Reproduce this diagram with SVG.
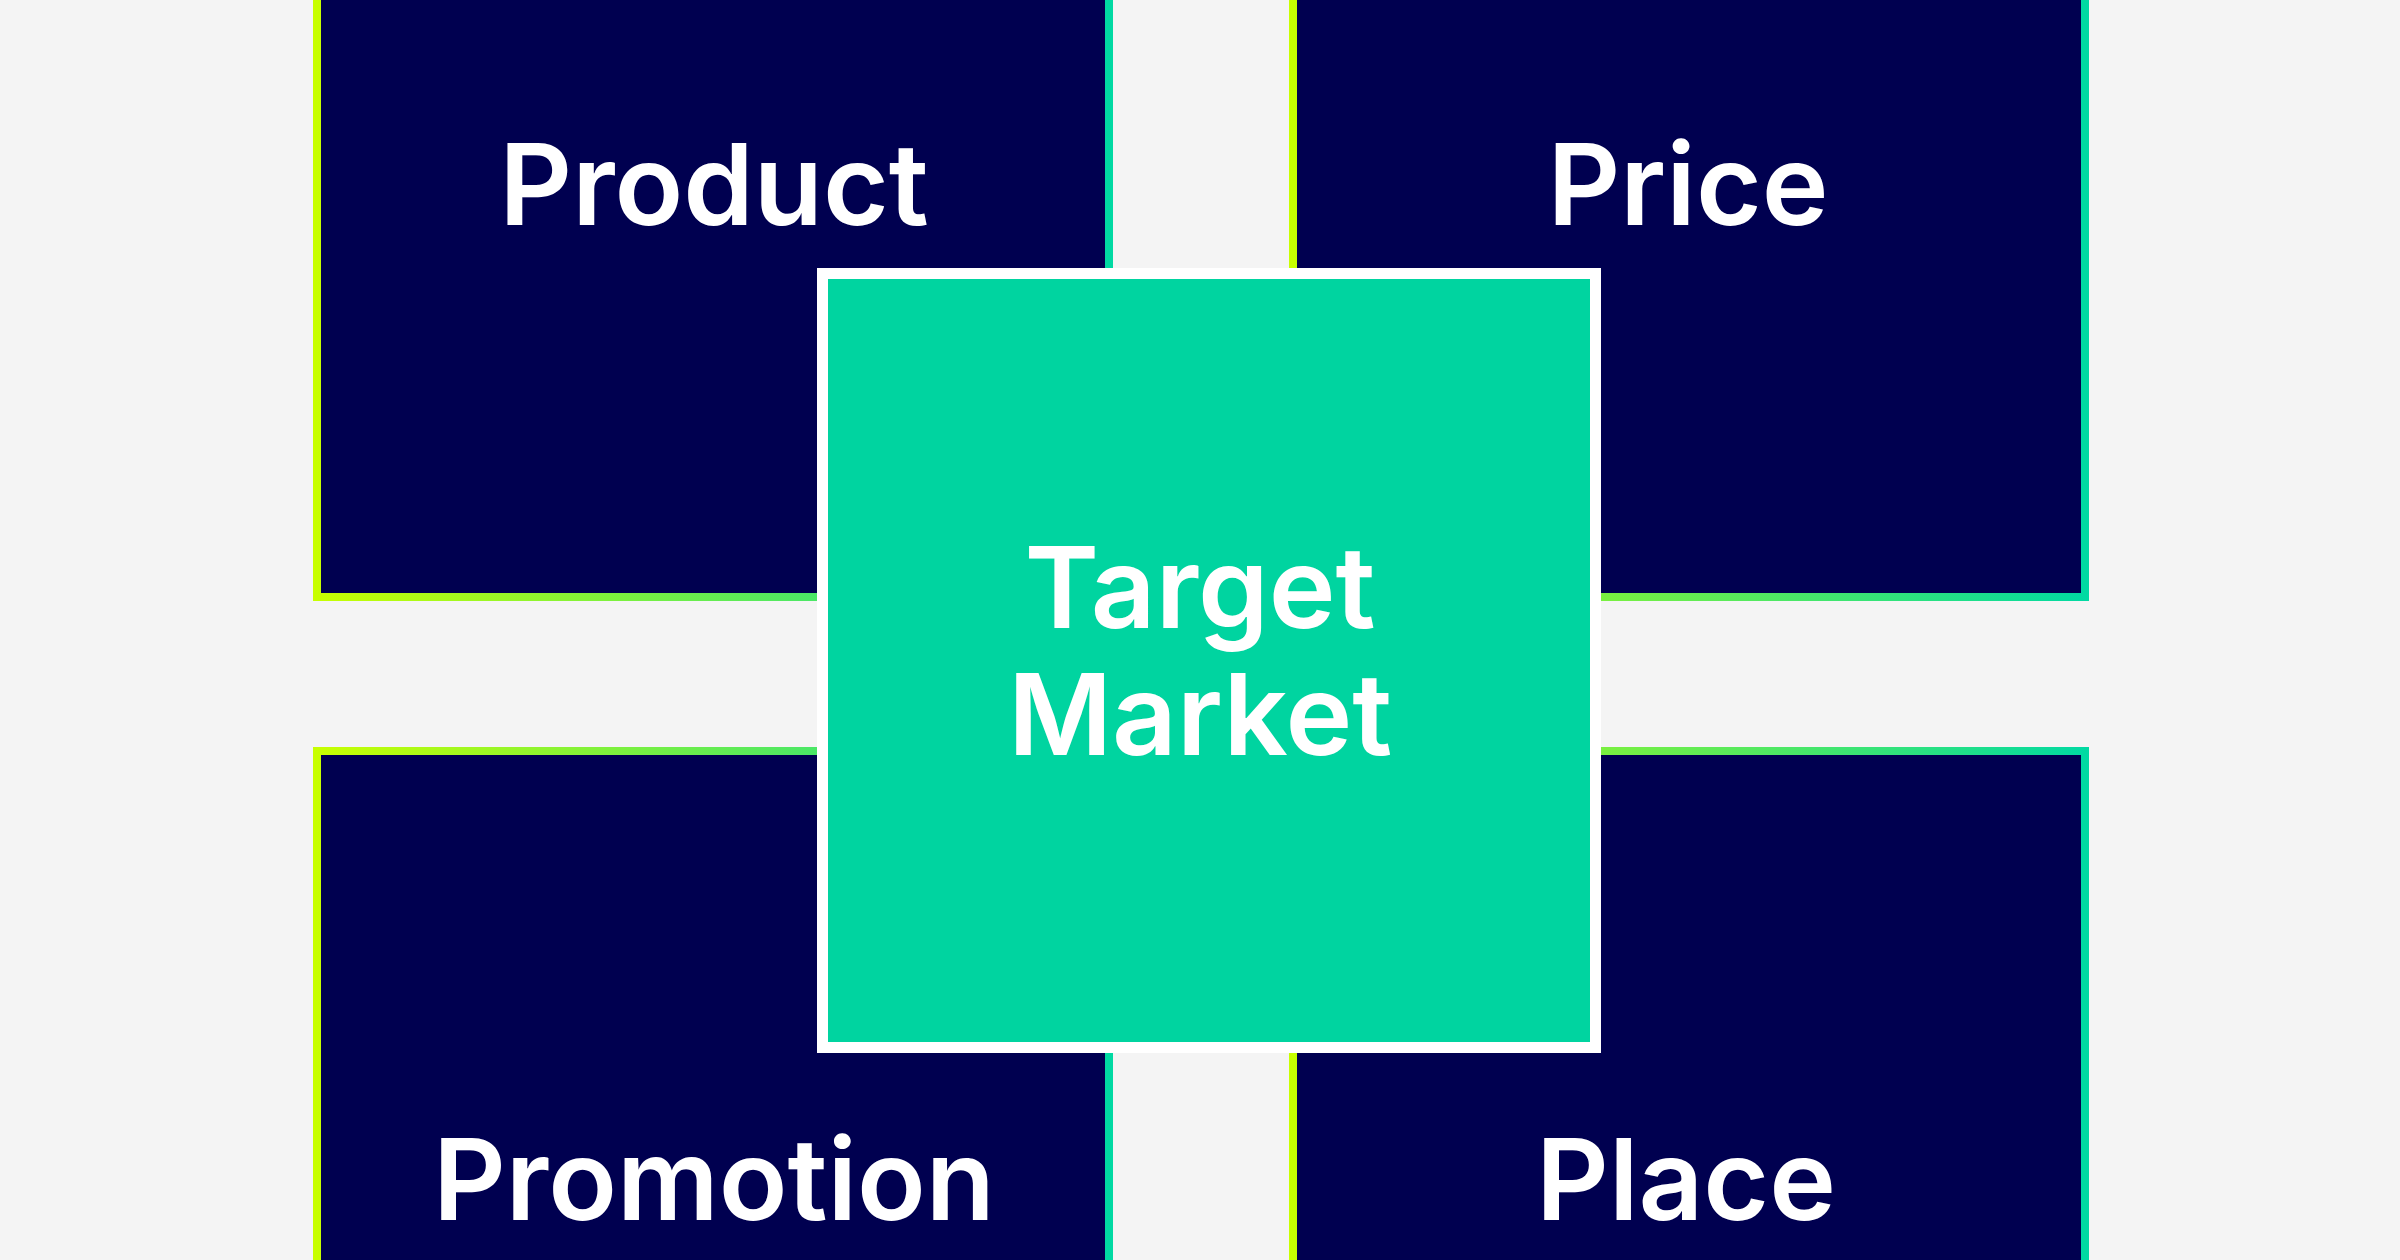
<svg xmlns="http://www.w3.org/2000/svg" width="2400" height="1260" viewBox="0 0 2400 1260">
  <defs>
    <linearGradient id="edge" x1="0" y1="0" x2="1" y2="0">
      <stop offset="0" stop-color="#C8FF00"/>
      <stop offset="1" stop-color="#00D9A3"/>
    </linearGradient>
    <style>
      .edge { fill: url(#edge); }
      .panel { fill: #000050; }
      .label { font-family: Inter, "Liberation Sans", sans-serif; font-size: 113px; font-weight: 600; fill: #FFFFFF; text-anchor: middle; }
    </style>
  </defs>
  <rect x="0" y="0" width="2400" height="1260" fill="#F4F4F4"/>

  <g id="product">
    <rect class="edge" x="313" y="-20" width="800" height="621"/>
    <rect class="panel" x="321" y="-20" width="784" height="613"/>
    <text class="label" x="714" y="225">Product</text>
  </g>
  <g id="price">
    <rect class="edge" x="1289" y="-20" width="800" height="621"/>
    <rect class="panel" x="1297" y="-20" width="784" height="613"/>
    <text class="label" x="1688" y="225">Price</text>
  </g>
  <g id="promotion">
    <rect class="edge" x="313" y="747" width="800" height="540"/>
    <rect class="panel" x="321" y="755" width="784" height="540"/>
    <text class="label" x="714" y="1220">Promotion</text>
  </g>
  <g id="place">
    <rect class="edge" x="1289" y="747" width="800" height="540"/>
    <rect class="panel" x="1297" y="755" width="784" height="540"/>
    <text class="label" x="1686" y="1220">Place</text>
  </g>

  <g id="target-market">
    <rect x="817" y="268" width="784" height="785" fill="#FFFFFF"/>
    <rect x="828" y="279" width="762" height="763" fill="#00D4A0"/>
    <text class="label" x="1200" y="628">Target</text>
    <text class="label" x="1200" y="755">Market</text>
  </g>

  <g id="connectors"></g>
</svg>
